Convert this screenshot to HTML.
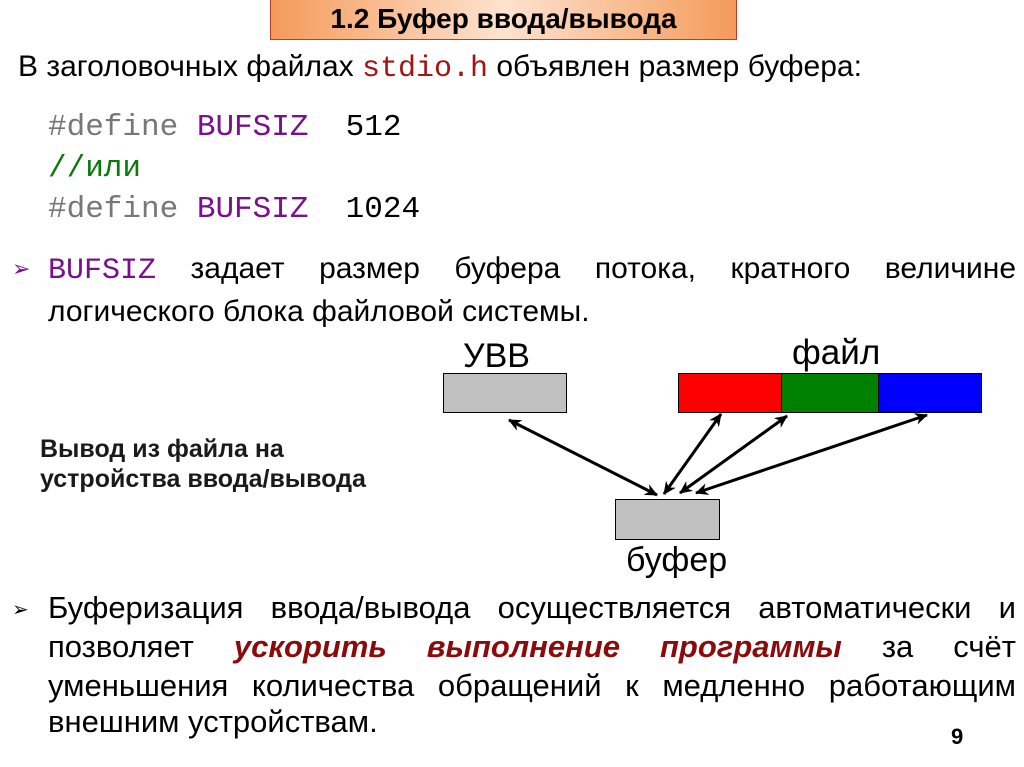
<!DOCTYPE html>
<html><head><meta charset="utf-8"><style>
body{margin:0;width:1024px;height:767px;background:#fff;position:relative;overflow:hidden;font-family:"Liberation Sans","DejaVu Sans",sans-serif;color:#000}
.a{position:absolute;white-space:nowrap;line-height:1.15}
.j{position:absolute;left:48px;width:968px;text-align:justify;text-align-last:justify;white-space:nowrap;line-height:1.15}
.m{font-family:"Liberation Mono","DejaVu Sans Mono",monospace}
.p{color:#7a1090}
.bul{position:absolute;left:12px;font-size:22px}
</style></head><body>
<div class="a" style="left:270px;top:0;width:467px;height:40px;border:1px solid #c0392b;border-top:none;background:linear-gradient(90deg,#f59a5a 0%,#fde3d0 50%,#f59a5a 100%);box-sizing:border-box;text-align:center;font-weight:bold;font-size:28px;line-height:38px">1.2 Буфер ввода/вывода</div>
<div class="a" style="left:18px;top:50px;font-size:30px">В заголовочных файлах <span class="m" style="color:#a31515">stdio.h</span> объявлен размер буфера:</div>
<div class="a m" style="left:48px;top:107px;font-size:31px;line-height:41px"><span style="color:#777">#define</span> <span class="p">BUFSIZ</span>&nbsp;&nbsp;512<br><span style="color:#0a7a0a">//или</span><br><span style="color:#777">#define</span> <span class="p">BUFSIZ</span>&nbsp;&nbsp;1024</div>
<div class="bul p" style="top:256px">➢</div>
<div class="j" style="top:252px;font-size:30px"><span class="m p">BUFSIZ</span> задает размер буфера потока, кратного величине</div>
<div class="a" style="left:48px;top:295px;font-size:30px">логического блока файловой системы.</div>
<div class="a" style="left:40px;top:434px;font-size:25px;font-weight:bold;color:#1a1a1a;line-height:30px">Вывод из файла на<br>устройства ввода/вывода</div>
<svg class="a" style="left:0;top:0" width="1024" height="767">
<defs><marker id="h2" markerWidth="14" markerHeight="12" refX="12" refY="6" orient="auto-start-reverse" markerUnits="userSpaceOnUse"><path d="M0,0 L13,6 L0,12 L4,6 Z" fill="#000"/></marker></defs>
<rect x="443.5" y="373.5" width="123" height="39" fill="#c0c0c0" stroke="#000"/>
<rect x="678.5" y="373.5" width="103" height="39" fill="#f00" stroke="#000"/>
<rect x="781.5" y="373.5" width="97" height="39" fill="#008000" stroke="#000"/>
<rect x="878.5" y="373.5" width="103" height="39" fill="#00f" stroke="#000"/>
<rect x="615.5" y="499.5" width="104" height="40" fill="#c0c0c0" stroke="#000"/>
<g stroke="#000" stroke-width="3" marker-start="url(#h2)" marker-end="url(#h2)">
<line x1="509" y1="420" x2="657" y2="495"/>
<line x1="721" y1="414" x2="664" y2="494"/>
<line x1="787" y1="416" x2="680" y2="493"/>
<line x1="927" y1="415" x2="696" y2="493"/>
</g>
<text x="463" y="367" font-size="34" font-family="Liberation Sans,sans-serif">УВВ</text>
<text x="792" y="364" font-size="35" font-family="Liberation Sans,sans-serif">файл</text>
<text x="626" y="571" font-size="34" font-family="Liberation Sans,sans-serif">буфер</text>
</svg>
<div class="bul" style="top:597px;font-size:20px">➢</div>
<div class="j" style="top:590px;font-size:31px">Буферизация ввода/вывода осуществляется автоматически и</div>
<div class="j" style="top:629px;font-size:31px">позволяет <b style="color:#8b0a0a;font-style:italic">ускорить выполнение программы</b> за счёт</div>
<div class="j" style="top:668px;font-size:31px">уменьшения количества обращений к медленно работающим</div>
<div class="a" style="left:48px;top:704px;font-size:31px">внешним устройствам.</div>
<div class="a" style="left:951px;top:724px;font-size:22px;font-weight:bold">9</div>
</body></html>
